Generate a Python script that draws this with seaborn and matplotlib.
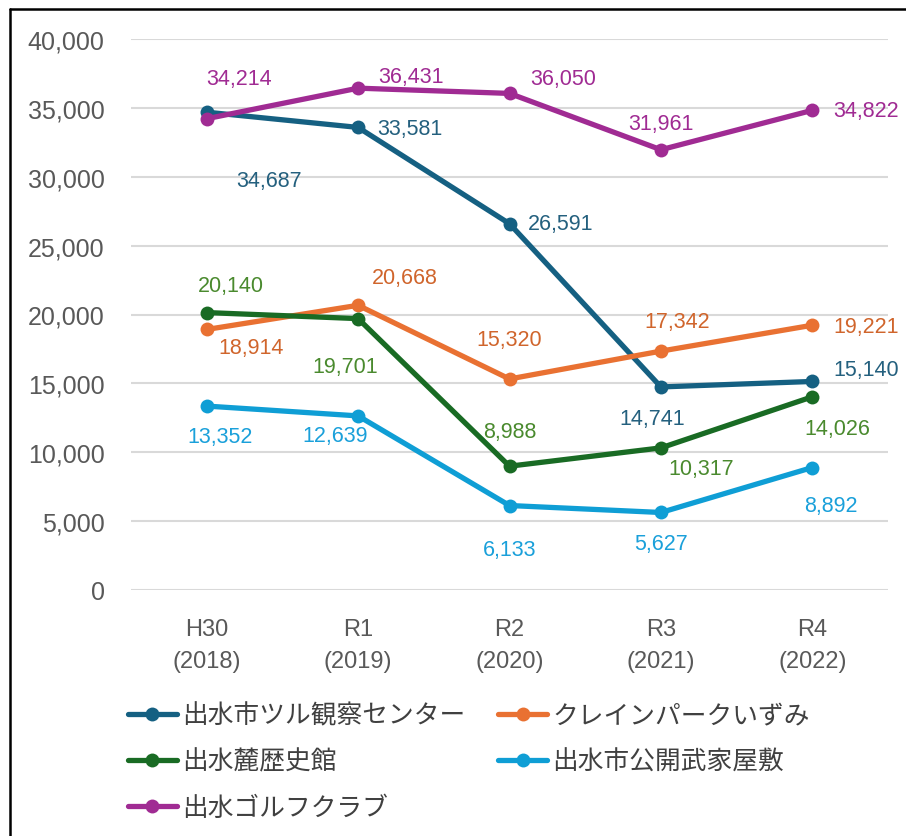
import pandas as pd
import matplotlib
matplotlib.use("Agg")
import matplotlib.pyplot as plt
import seaborn as sns
from matplotlib.lines import Line2D
from matplotlib.ticker import FuncFormatter

# Data
years = ["H30\n(2018)", "R1\n(2019)", "R2\n(2020)", "R3\n(2021)", "R4\n(2022)"]
facilities = ["出水市ツル観察センター", "クレインパークいずみ", "出水麓歴史館",
              "出水市公開武家屋敷", "出水ゴルフクラブ"]
tsuru = [34687, 33581, 26591, 14741, 15140]
crane = [18914, 20668, 15320, 17342, 19221]
fumoto = [20140, 19701, 8988, 10317, 14026]
buke = [13352, 12639, 6133, 5627, 8892]
golf = [34214, 36431, 36050, 31961, 34822]

line_colors = ["#156082", "#E97132", "#196B24", "#0F9ED5", "#A02B93"]
label_colors = ["#24607E", "#D0652C", "#4A8A2E", "#1AA0DA", "#A02B93"]

# label offsets in pixels (dx, dy) for each point
offsets = [
    [(62, -68), (52, -1), (51, 0), (-9, -32), (54, 12)],
    [(44, -18), (47, 28), (0, 39), (16, 30), (54, -1)],
    [(24, 27), (-13, -48), (0, 35), (40, -21), (25, -32)],
    [(13, -30), (-23, -20), (0, -44), (0, -31), (19, -38)],
    [(32, 40), (53, 12), (54, 15), (0, 26), (54, 0)],
]

series = [tsuru, crane, fumoto, buke, golf]
rows = []
for name, vals in zip(facilities, series):
    for y, v in zip(years, vals):
        rows.append({"year": y, "visitors": v, "facility": name})
df = pd.DataFrame(rows)

sns.set_theme(style="white")
plt.rcParams["font.family"] = ["Liberation Sans", "Noto Sans CJK JP", "DejaVu Sans"]

fig = plt.figure(figsize=(9.06, 8.37), dpi=100)
ax = fig.add_axes([131 / 906, 1 - 591 / 837, (888 - 131) / 906, (591 - 40) / 837])

sns.lineplot(data=df, x="year", y="visitors", hue="facility", hue_order=facilities,
             palette=line_colors, marker="o", markersize=10, markeredgewidth=0,
             linewidth=3.8, ax=ax, sort=False)

ax.set_ylim(0, 40000)
ax.set_yticks(range(0, 40001, 5000))
ax.yaxis.set_major_formatter(FuncFormatter(lambda v, p: f"{int(v):,}"))
ax.set_xlim(-0.5, 4.5)
ax.grid(axis="y", color="#D9D9D9", linewidth=1.5)
ax.set_axisbelow(True)
for s in ax.spines.values():
    s.set_visible(False)
ax.tick_params(axis="both", length=0, labelsize=18, labelcolor="#595959")
ax.tick_params(axis="y", pad=19)
ax.tick_params(axis="x", pad=20, labelsize=17)
for t in ax.get_xticklabels():
    t.set_linespacing(1.6)
ax.set_xlabel("")
ax.set_ylabel("")

# data labels
for i, vals in enumerate(series):
    for j, v in enumerate(vals):
        dx, dy = offsets[i][j]
        ax.annotate(f"{v:,}", (j, v), xytext=(dx, dy), textcoords="offset pixels",
                    ha="center", va="center", fontsize=15.5, color=label_colors[i])

# legend, row-wise order
handles, labels = ax.get_legend_handles_labels()
ax.get_legend().remove()
order = [0, 2, 4, 1, 3]
leg = fig.legend([handles[k] for k in order], [labels[k] for k in order],
                 ncol=2, loc="upper left", bbox_to_anchor=(115 / 906, 1 - 691 / 837),
                 frameon=False, prop={"family": ["Noto Sans CJK JP"], "size": 18.5},
                 handlelength=1.9, handletextpad=0.2, columnspacing=1.3,
                 labelspacing=0.78, borderpad=0)
for t in leg.get_texts():
    t.set_color("#404040")

# border lines (top and left)
fig.add_artist(Line2D([9.5 / 906, 1], [1 - 9.5 / 837, 1 - 9.5 / 837],
                      transform=fig.transFigure, color="black", linewidth=1.8))
fig.add_artist(Line2D([9.5 / 906, 9.5 / 906], [0, 1 - 9.5 / 837],
                      transform=fig.transFigure, color="black", linewidth=1.8))

fig.savefig("out.png", dpi=100)
